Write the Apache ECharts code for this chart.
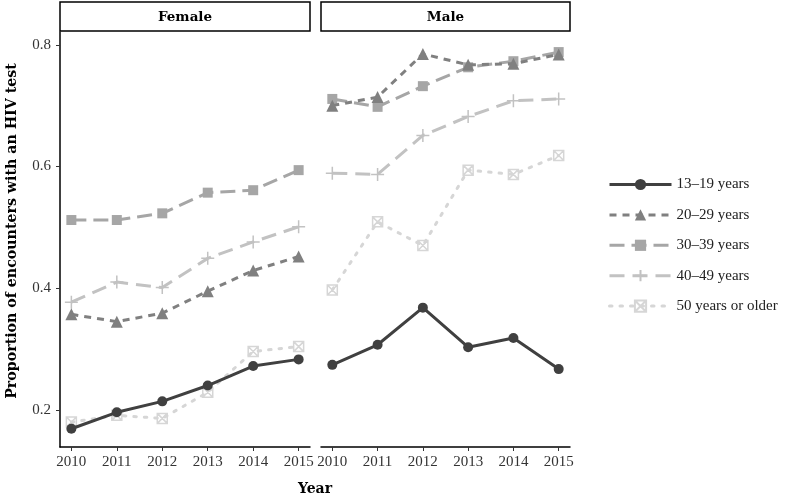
<!DOCTYPE html>
<html>
<head>
<meta charset="utf-8">
<script src="https://cdn.jsdelivr.net/npm/echarts@6/dist/echarts.min.js"></script>
<style>html,body{margin:0;padding:0;background:#fff}#c{width:788px;height:498px}</style>
</head>
<body>
<div id="c"></div>
<script>
var years = [2010, 2011, 2012, 2013, 2014, 2015];
var panels = ['Female', 'Male'];
var groups = ['13–19 years', '20–29 years', '30–39 years', '40–49 years', '50 years or older'];
var yTicks = [0.2, 0.4, 0.6, 0.8];

var female13_19 = [0.169, 0.196, 0.214, 0.240, 0.272, 0.283];
var female20_29 = [0.357, 0.345, 0.359, 0.395, 0.429, 0.452];
var female30_39 = [0.512, 0.512, 0.523, 0.557, 0.561, 0.594];
var female40_49 = [0.377, 0.410, 0.401, 0.449, 0.476, 0.501];
var female50plus = [0.180, 0.191, 0.186, 0.229, 0.296, 0.304];

var male13_19 = [0.274, 0.307, 0.368, 0.303, 0.318, 0.267];
var male20_29 = [0.700, 0.714, 0.785, 0.767, 0.769, 0.784];
var male30_39 = [0.711, 0.698, 0.732, 0.763, 0.773, 0.788];
var male40_49 = [0.589, 0.587, 0.651, 0.682, 0.708, 0.711];
var male50plus = [0.397, 0.509, 0.470, 0.594, 0.587, 0.618];

var FONT = '"Liberation Serif", "DejaVu Serif", serif';
var BOLDFONT = '"DejaVu Serif", "Liberation Serif", serif';

var styles = [
  {color: '#404040', dash: 'solid', symbol: 'circle', size: 10, fill: true},
  {color: '#808080', dash: [7, 6], symbol: 'triangle', size: 12, fill: true},
  {color: '#a6a6a6', dash: [15, 7], symbol: 'rect', size: 10, fill: true},
  {color: '#c2c2c2', dash: [15, 8], symbol: 'path://M5,0 L5,10 M0,5 L10,5', size: 13, fill: false},
  {color: '#d6d6d6', dash: [2.5, 8], symbol: 'path://M0,0 L10,0 L10,10 L0,10 Z M0,0 L10,10 M10,0 L0,10', size: 10, fill: false}
];

var femaleData = [female13_19, female20_29, female30_39, female40_49, female50plus];
var maleData = [male13_19, male20_29, male30_39, male40_49, male50plus];

function pairs(vals) { return years.map(function (y, i) { return [y, vals[i]]; }); }

var series = [];
[femaleData, maleData].forEach(function (set, p) {
  set.forEach(function (vals, g) {
    var s = styles[g];
    series.push({
      name: groups[g],
      type: 'line',
      xAxisIndex: p,
      yAxisIndex: p,
      data: pairs(vals),
      symbol: s.symbol,
      symbolSize: s.size,
      showSymbol: true,
      animation: false,
      z: 10 - g,
      lineStyle: {color: s.color, width: 3, type: s.dash, cap: g === 4 ? 'round' : 'butt'},
      itemStyle: s.fill ? {color: s.color, borderWidth: 0}
                        : {color: 'rgba(255,255,255,0)', borderColor: s.color, borderWidth: 1.5},
      emphasis: {disabled: true}
    });
  });
});

function xAxis(idx) {
  return {
    type: 'value', gridIndex: idx, min: 2009.75, max: 2015.25,
    splitLine: {show: false},
    axisLine: {show: true, lineStyle: {color: '#000', width: 1.5}},
    axisTick: {show: true, length: 4, lineStyle: {color: '#333', width: 1}, customValues: years},
    axisLabel: {customValues: years, margin: 8, fontFamily: FONT, fontSize: 15, color: '#333',
      formatter: function (v) { return String(v); }}
  };
}
function yAxis(idx) {
  return {
    type: 'value', gridIndex: idx, min: 0.139, max: 0.821,
    splitLine: {show: false},
    axisLine: {show: idx === 0, onZero: false, lineStyle: {color: '#000', width: 1.5}},
    axisTick: {show: idx === 0, length: 4, lineStyle: {color: '#333'}, customValues: yTicks},
    axisLabel: {show: idx === 0, customValues: yTicks, margin: 9, fontFamily: FONT, fontSize: 15, color: '#333',
      formatter: function (v) { return v.toFixed(1); }}
  };
}

var chart = echarts.init(document.getElementById('c'), null, {renderer: 'canvas'});
chart.setOption({
  backgroundColor: '#fff',
  animation: false,
  grid: [
    {left: 60, top: 32, width: 250, height: 415},
    {left: 321, top: 32, width: 249, height: 415}
  ],
  xAxis: [xAxis(0), xAxis(1)],
  yAxis: [yAxis(0), yAxis(1)],
  legend: {
    orient: 'vertical', left: 603, top: 172,
    itemWidth: 62, itemHeight: 14, itemGap: 15.4,
    data: groups,
    lineStyle: {width: 3},
    textStyle: {fontFamily: FONT, fontSize: 15, color: '#222'}
  },
  graphic: [
    {type: 'rect', shape: {x: 60, y: 2, width: 250, height: 29}, style: {fill: '#fff', stroke: '#000', lineWidth: 1.5}},
    {type: 'text', x: 185, y: 17, style: {text: panels[0], fontFamily: BOLDFONT, fontWeight: 'bold', fontSize: 13.5, fill: '#000', align: 'center', verticalAlign: 'middle'}},
    {type: 'rect', shape: {x: 321, y: 2, width: 249, height: 29}, style: {fill: '#fff', stroke: '#000', lineWidth: 1.5}},
    {type: 'text', x: 445.5, y: 17, style: {text: panels[1], fontFamily: BOLDFONT, fontWeight: 'bold', fontSize: 13.5, fill: '#000', align: 'center', verticalAlign: 'middle'}},
    {type: 'text', x: 12, y: 231, rotation: Math.PI / 2, style: {text: 'Proportion of encounters with an HIV test', fontFamily: BOLDFONT, fontWeight: 'bold', fontSize: 14.2, fill: '#000', align: 'center', verticalAlign: 'middle'}},
    {type: 'text', x: 315, y: 489, style: {text: 'Year', fontFamily: BOLDFONT, fontWeight: 'bold', fontSize: 14, fill: '#000', align: 'center', verticalAlign: 'middle'}}
  ],
  series: series
});
</script>
</body>
</html>
